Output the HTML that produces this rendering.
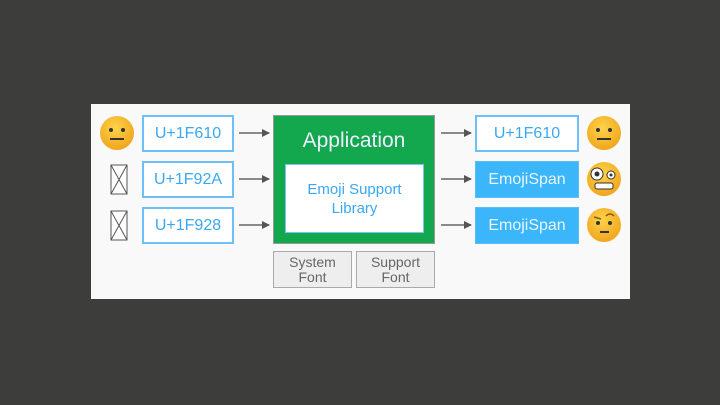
<!DOCTYPE html><html><head><style>
body{margin:0;width:720px;height:405px;background:#3d3d3b;position:relative;font-family:"Liberation Sans",sans-serif;overflow:hidden}
.a{position:absolute;box-sizing:border-box;display:flex;align-items:center;justify-content:center;text-align:center}
.b{border:2px solid #6cc0f5;background:#fff;color:#3aa8f0;font-size:16px}
.s{background:#3bb6fb;color:#eaf6ff;font-size:16px;border:1px solid #58bff5}
.f{background:#eeeeee;border:1px solid #aaa;color:#666;font-size:14px;line-height:15px}
</style></head><body>
<div class="a" style="left:91px;top:104px;width:539px;height:195px;background:#f9f9f9"></div>
<div class="a b" style="left:142px;top:115px;width:92px;height:37px">U+1F610</div>
<div class="a b" style="left:142px;top:161px;width:92px;height:37px">U+1F92A</div>
<div class="a b" style="left:142px;top:207px;width:92px;height:37px">U+1F928</div>
<div class="a" style="left:273px;top:115px;width:162px;height:129px;background:#13a84e;border:1px solid #999;display:block">
<div style="color:#eef;font-size:21px;margin-top:13px">Application</div></div>
<div class="a" style="left:285px;top:164px;width:139px;height:69px;background:#fff;border:1px solid #7bc4f0;color:#3aa8f0;font-size:15px;line-height:19px">Emoji Support<br>Library</div>
<div class="a f" style="left:273px;top:251px;width:79px;height:37px">System<br>Font</div>
<div class="a f" style="left:356px;top:251px;width:79px;height:37px">Support<br>Font</div>
<div class="a b" style="left:475px;top:115px;width:104px;height:37px">U+1F610</div>
<div class="a s" style="left:475px;top:161px;width:104px;height:37px">EmojiSpan</div>
<div class="a s" style="left:475px;top:207px;width:104px;height:37px">EmojiSpan</div>
<svg width="720" height="405" style="position:absolute;left:0;top:0">
<defs><marker id="m" markerWidth="8" markerHeight="8" refX="7" refY="4" orient="auto" markerUnits="userSpaceOnUse"><path d="M0,0L8,4L0,8z" fill="#555"/></marker>
<radialGradient id="g" cx="0.45" cy="0.35" r="0.7"><stop offset="0" stop-color="#fcd34a"/><stop offset="1" stop-color="#f0a21a"/></radialGradient></defs>
<g stroke="#666" stroke-width="1.5" marker-end="url(#m)">
<line x1="239" y1="133" x2="269" y2="133"/><line x1="239" y1="179" x2="269" y2="179"/><line x1="239" y1="225" x2="269" y2="225"/>
<line x1="441" y1="133" x2="471" y2="133"/><line x1="441" y1="179" x2="471" y2="179"/><line x1="441" y1="225" x2="471" y2="225"/></g>
<g stroke="#555" stroke-width="1" fill="#fff">
<rect x="111" y="165" width="16" height="29"/><path d="M111,165L127,194M127,165L111,194"/>
<rect x="111" y="211" width="16" height="29"/><path d="M111,211L127,240M127,211L111,240"/></g>
<g>
<circle cx="117" cy="133" r="17" fill="url(#g)"/><circle cx="111" cy="130" r="2" fill="#333"/><circle cx="123" cy="130" r="2" fill="#333"/><line x1="110" y1="139" x2="124" y2="139" stroke="#333" stroke-width="2"/>
<circle cx="604" cy="133" r="17" fill="url(#g)"/><circle cx="598" cy="130" r="2" fill="#333"/><circle cx="610" cy="130" r="2" fill="#333"/><line x1="597" y1="139" x2="611" y2="139" stroke="#333" stroke-width="2"/>
<circle cx="604" cy="179" r="17" fill="url(#g)"/><circle cx="597" cy="174" r="6" fill="#fff" stroke="#333"/><circle cx="597" cy="174" r="2.5" fill="#333"/><circle cx="611" cy="175" r="4" fill="#fff" stroke="#333"/><circle cx="611" cy="175" r="1.5" fill="#333"/><rect x="595" y="183" width="18" height="6" rx="2" fill="#fff" stroke="#333"/>
<circle cx="604" cy="225" r="17" fill="url(#g)"/><circle cx="598" cy="223" r="2" fill="#333"/><circle cx="610" cy="223" r="2" fill="#333"/><path d="M594,217L601,219M606,216Q610,212 614,216" stroke="#8a5a10" stroke-width="1.5" fill="none"/><line x1="600" y1="232" x2="609" y2="232" stroke="#333" stroke-width="2"/>
</g></svg>
</body></html>
